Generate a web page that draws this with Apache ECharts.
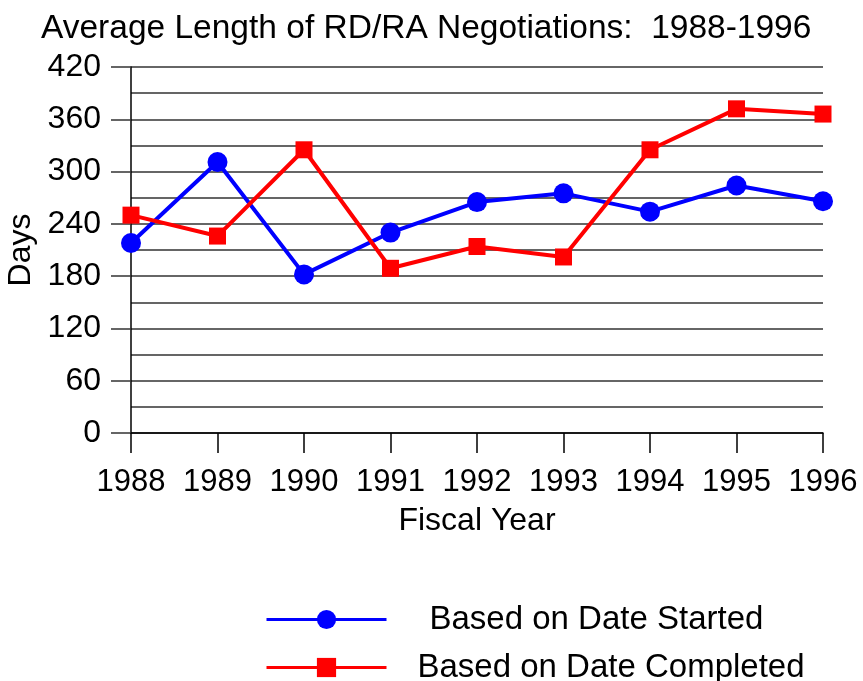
<!DOCTYPE html>
<html>
<head>
<meta charset="utf-8">
<script src="https://cdn.jsdelivr.net/npm/echarts@6/dist/echarts.min.js"></script>
<style>
  html, body { margin: 0; padding: 0; background: #fff; }
  #main { width: 863px; height: 681px; }
</style>
</head>
<body>
<div id="main"></div>
<script>
var years = ['1988', '1989', '1990', '1991', '1992', '1993', '1994', '1995', '1996'];
var dateStarted = [218, 311, 182, 230, 265, 275, 254, 284, 266];
var dateCompleted = [250, 226, 325, 189, 214, 202, 325, 372, 366];
var yTicks = [0, 60, 120, 180, 240, 300, 360, 420];

var dom = document.getElementById('main');
var myChart = echarts.init(dom, null, { renderer: 'canvas' });

var font = 'Liberation Sans, Arial, sans-serif';

var option = {
    backgroundColor: '#fff',
    animation: false,
    textStyle: { fontFamily: font },
    title: {
        text: 'Average Length of RD/RA Negotiations:  1988-1996',
        left: 36,
        top: 7,
        textStyle: { fontSize: 33.5, fontWeight: 'normal', color: '#000', fontFamily: font }
    },
    grid: { left: 131, right: 40, top: 67, bottom: 248, containLabel: false, outerBoundsMode: 'none' },
    legend: [
        {
            data: ['Based on Date Started'],
            left: 260,
            top: 598,
            itemWidth: 120,
            itemHeight: 24,
            itemGap: 0,
            lineStyle: { width: 3 },
            textStyle: { fontSize: 33, color: '#000', padding: [0, 0, 0, 38] }
        },
        {
            data: ['Based on Date Completed'],
            left: 260,
            top: 646,
            itemWidth: 120,
            itemHeight: 24,
            itemGap: 0,
            lineStyle: { width: 3 },
            textStyle: { fontSize: 33, color: '#000', padding: [0, 0, 0, 26] }
        }
    ],
    xAxis: {
        type: 'category',
        data: years,
        boundaryGap: false,
        name: 'Fiscal Year',
        nameLocation: 'middle',
        nameGap: 72,
        nameTextStyle: { fontSize: 32, color: '#000' },
        axisLine: { lineStyle: { color: '#000', width: 1.5 } },
        axisTick: { show: true, length: 20, lineStyle: { color: '#000', width: 1.5 } },
        axisLabel: { fontSize: 31, color: '#000', margin: 34, interval: 0, hideOverlap: false },
        splitLine: { show: false }
    },
    yAxis: {
        type: 'value',
        min: 0,
        max: 420,
        interval: 60,
        name: 'Days',
        nameLocation: 'middle',
        nameGap: 92,
        nameTextStyle: { fontSize: 32, color: '#000' },
        axisLine: { show: true, lineStyle: { color: '#000', width: 1.5 } },
        axisTick: { show: true, length: 20, lineStyle: { color: '#333', width: 1.5 } },
        axisLabel: {
            fontSize: 32,
            color: '#000',
            margin: 30,
            formatter: function (v) {
                return yTicks.indexOf(v) >= 0 ? String(v) : '';
            }
        },
        splitLine: { show: true, lineStyle: { color: '#333', width: 1.5 } },
        minorTick: { show: false, splitNumber: 2 },
        minorSplitLine: { show: true, lineStyle: { color: '#333', width: 1.5 } }
    },
    series: [
        {
            name: 'Based on Date Started',
            type: 'line',
            data: dateStarted,
            symbol: 'circle',
            symbolSize: 20,
            lineStyle: { color: '#0000ff', width: 4 },
            itemStyle: { color: '#0000ff' }
        },
        {
            name: 'Based on Date Completed',
            type: 'line',
            data: dateCompleted,
            symbol: 'rect',
            symbolSize: 17,
            lineStyle: { color: '#ff0000', width: 4 },
            itemStyle: { color: '#ff0000' }
        }
    ]
};

if (option && typeof option === 'object') {
    myChart.setOption(option);
}

window.addEventListener('resize', myChart.resize);
</script>
</body>
</html>
